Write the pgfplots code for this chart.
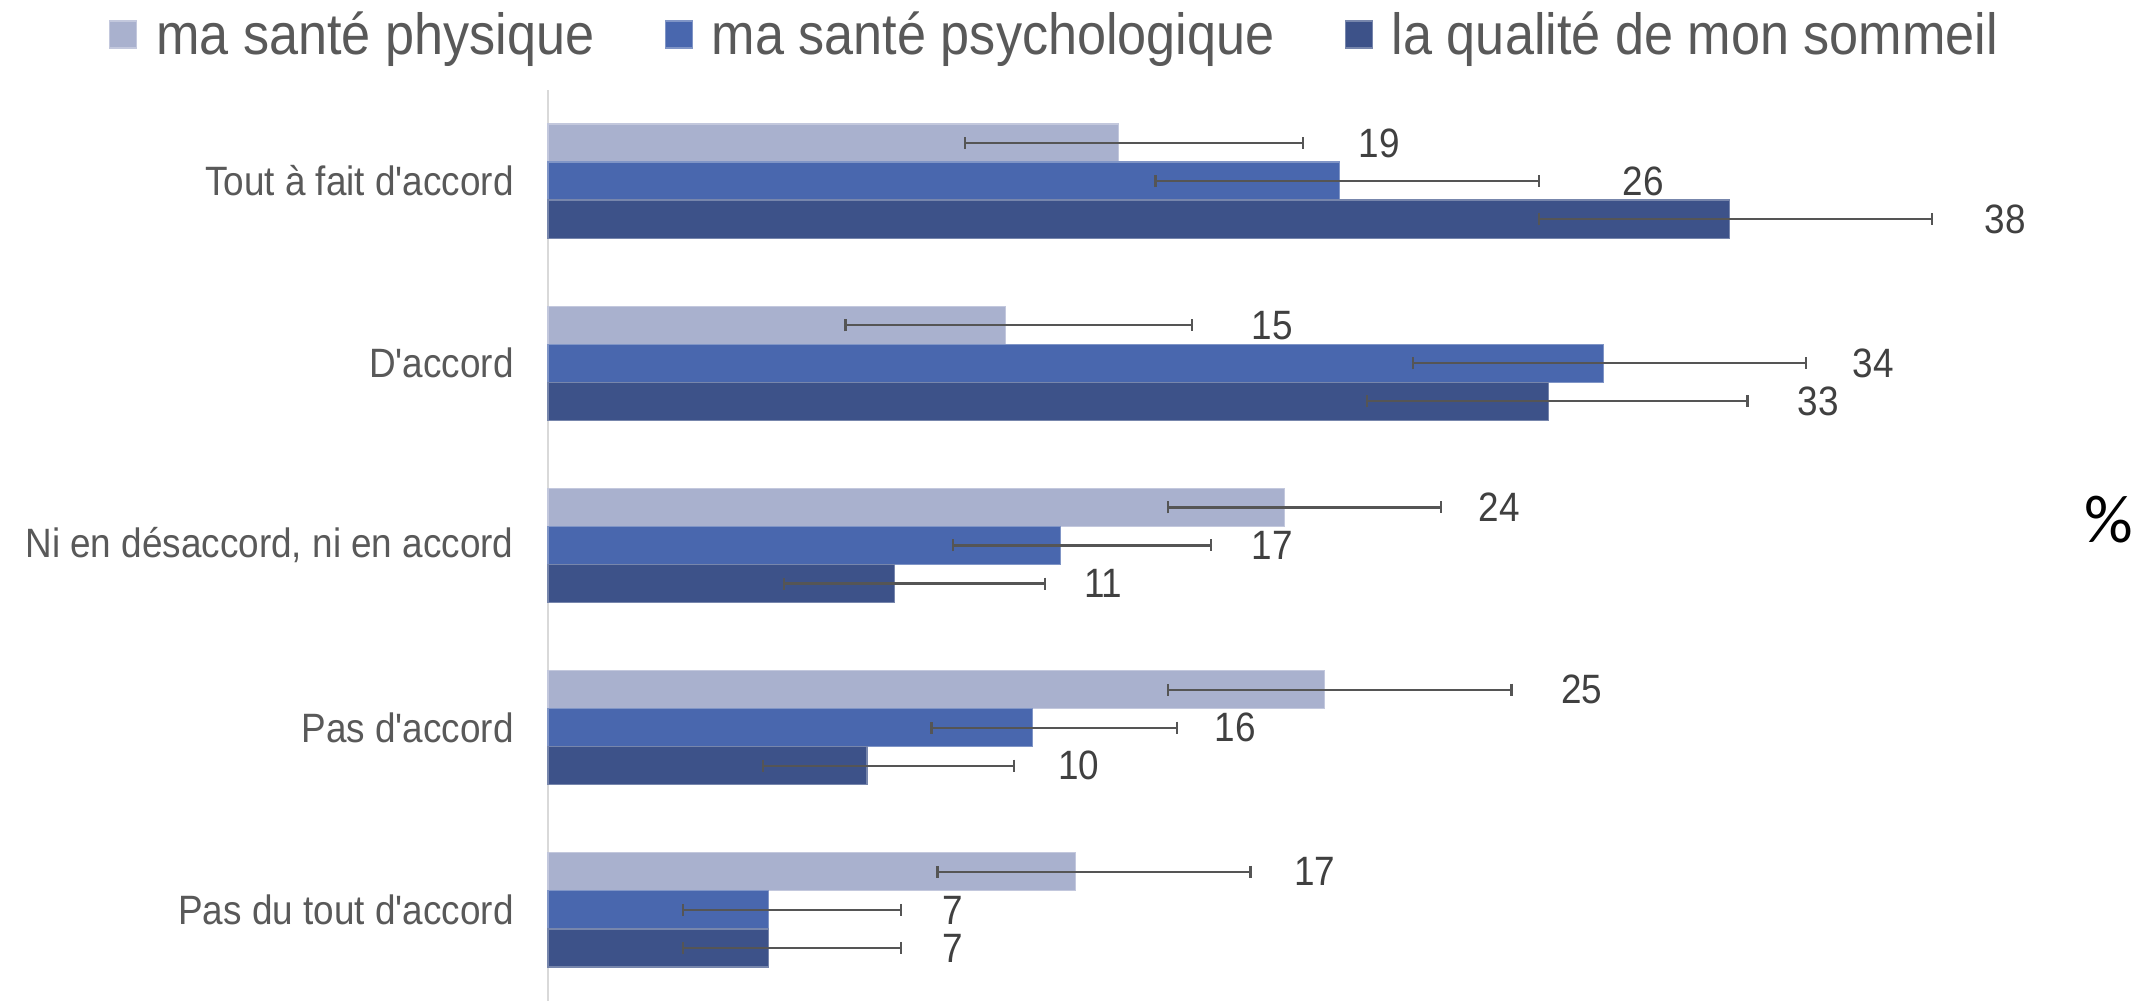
\documentclass[border=0pt]{standalone}
\usepackage{pgfplots}
\pgfplotsset{compat=1.18}
\usepackage{fontspec}
\newfontfamily\lib{Liberation Sans}[FakeStretch=0.9]
\newfontfamily\carl{Carlito}
\definecolor{cphys}{HTML}{A9B1CE}
\definecolor{cpsy}{HTML}{4967AE}
\definecolor{csom}{HTML}{3D5289}
\definecolor{ctxt}{HTML}{595959}
\definecolor{clab}{HTML}{404040}
\definecolor{caxis}{HTML}{D9D9D9}
\definecolor{cerr}{HTML}{555555}
\pgfplotsset{sqlegend/.style={legend image code/.code={\fill[##1] (0pt,-6.75pt) rectangle (13.5pt,6.75pt);}},
  myerr/.style={error bars/.cd, x dir=both, x explicit, error mark=|,
    error bar style={line width=1.15pt, draw=cerr},
    error mark options={line width=1.15pt, mark size=3pt, draw=cerr}}}

% y = category index (4 = top) shifted by +/- one bar width (0.2086)
\pgfplotstableread{
y x ep em
4.2086 18.6 6.0 5.0
3.2086 14.9 6.1 5.2
2.2086 24.0 5.1 3.8
1.2086 25.3 6.1 5.1
0.2086 17.2 5.7 4.5
}\physique
\pgfplotstableread{
y x ep em
4 25.8 6.5 6.0
3 34.4 6.6 6.2
2 16.7 4.9 3.5
1 15.8 4.7 3.3
0 7.2 4.3 2.8
}\psycho
\pgfplotstableread{
y x ep em
3.7914 38.5 6.6 6.2
2.7914 32.6 6.5 5.9
1.7914 11.3 4.9 3.6
0.7914 10.4 4.8 3.4
-0.2086 7.2 4.3 2.8
}\sommeil
\pgfplotstableread{
x y l
27.1 4.2086 19
23.6 3.2086 15
31.0 2.2086 24
33.7 1.2086 25
25.0 0.2086 17
35.7 4 26
43.2 3 34
23.6 2 17
22.4 1 16
13.2 0 7
47.5 3.7914 38
41.4 2.7914 33
18.1 1.7914 11
17.3 0.7914 10
13.2 -0.2086 7
}\labels

\begin{document}
\begin{tikzpicture}
\useasboundingbox (-274pt,0pt) rectangle (797pt,500.5pt);
\begin{axis}[
 width=767pt, height=455.5pt, scale only axis,
 xmin=0, xmax=50, ymin=-0.5, ymax=4.5,
 axis x line=none, axis y line*=left,
 y axis line style={draw=caxis, line width=1pt},
 xtick=\empty,
 ytick={0,1,2,3,4},
 yticklabels={Pas du tout d'accord, Pas d'accord, {Ni en désaccord, ni en accord}, D'accord, Tout à fait d'accord},
 major tick length=0pt,
 yticklabel style={font=\lib\fontsize{20.5}{24}\selectfont, text=ctxt, inner sep=0pt, xshift=-17pt},
 bar width=19pt,
 clip=false,
 legend columns=3,
 legend style={at={(0.331,1.061)}, anchor=center, draw=none, fill=none,
   font=\lib\fontsize{29}{34}\selectfont, text=ctxt,
   /tikz/every odd column/.append style={column sep=7.5pt},
   /tikz/every even column/.append style={column sep=33pt}},
 legend cell align=left,
]
\addplot[xbar, bar shift=0pt, fill=cphys, draw=cphys!70!white, line width=0.6pt, sqlegend, myerr]
  table[x=x, y=y, x error plus=ep, x error minus=em] {\physique};
\addlegendentry{ma santé physique}
\addplot[xbar, bar shift=0pt, fill=cpsy, draw=cpsy!70!white, line width=0.6pt, sqlegend, myerr]
  table[x=x, y=y, x error plus=ep, x error minus=em] {\psycho};
\addlegendentry{ma santé psychologique}
\addplot[xbar, bar shift=0pt, fill=csom, draw=csom!70!white, line width=0.6pt, sqlegend, myerr]
  table[x=x, y=y, x error plus=ep, x error minus=em] {\sommeil};
\addlegendentry{la qualité de mon sommeil}
\addplot[only marks, mark=none, forget plot, nodes near coords, point meta=explicit symbolic,
  nodes near coords style={anchor=center, inner sep=0pt, font=\lib\fontsize{20.5}{24}\selectfont, text=clab}]
  table[x=x, y=y, meta=l] {\labels};
\end{axis}
\node[font=\carl\fontsize{34}{40}\selectfont, text=black] at (780.5pt,240.5pt) {\%};
\end{tikzpicture}
\end{document}
